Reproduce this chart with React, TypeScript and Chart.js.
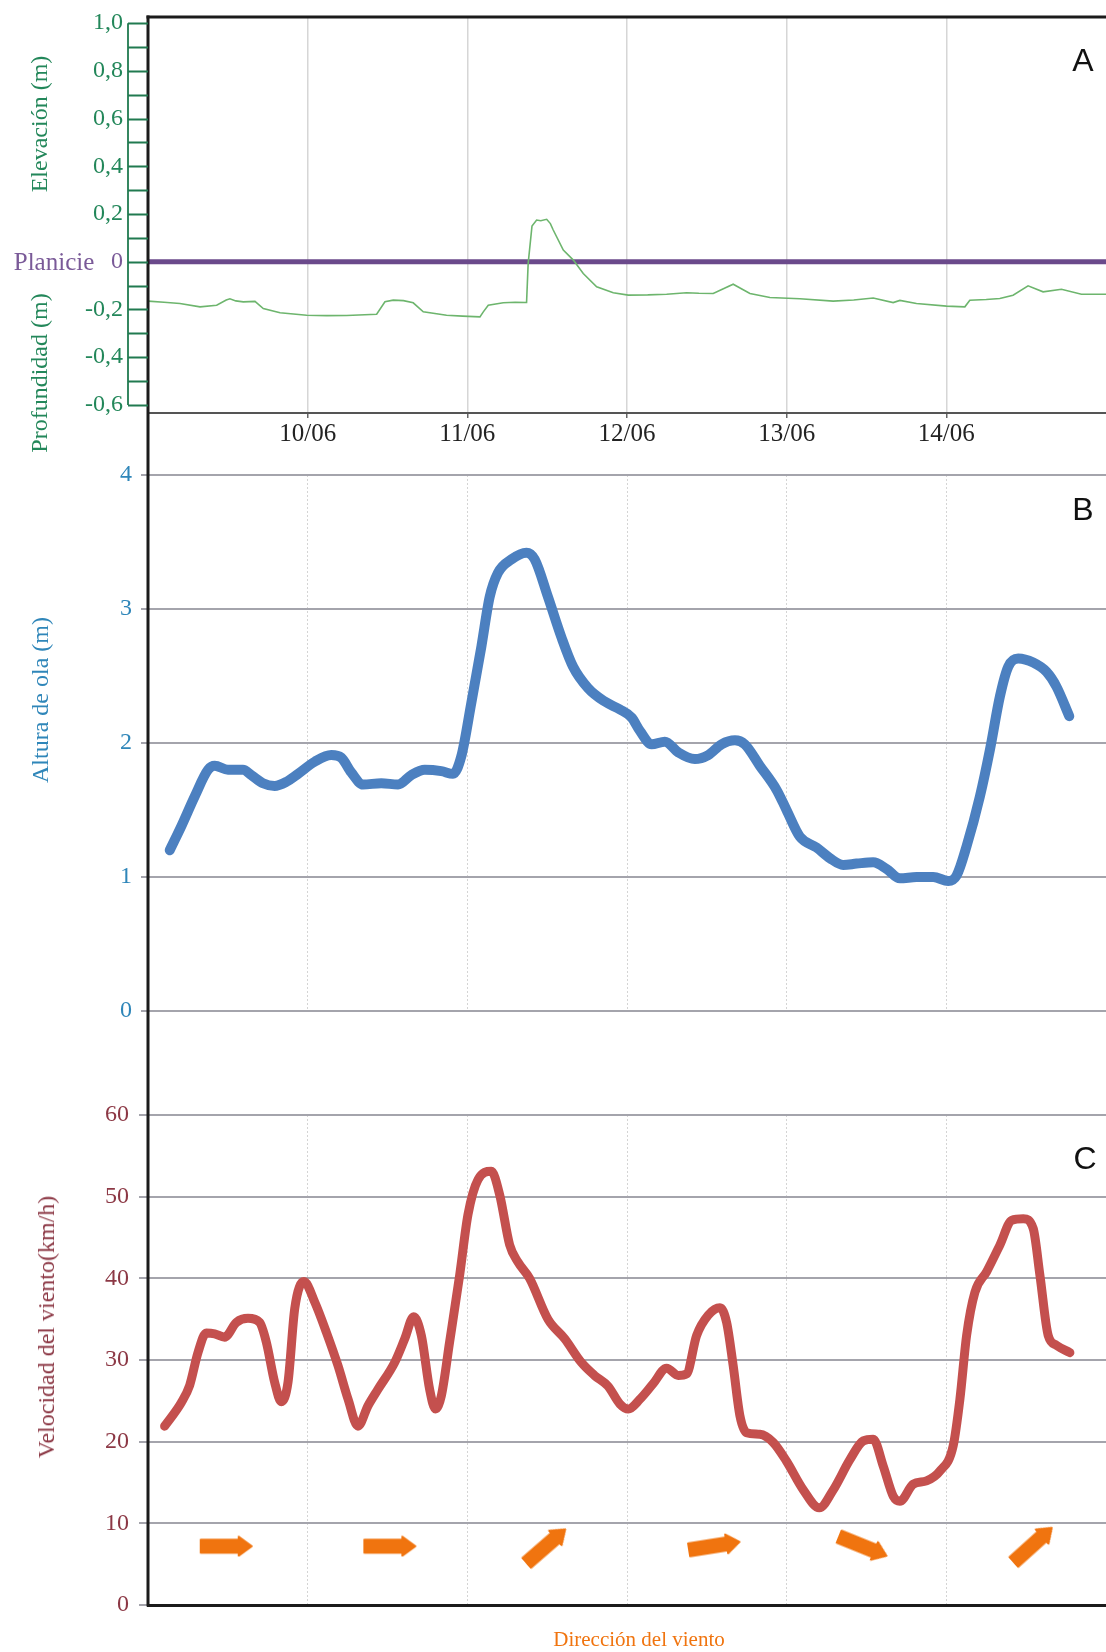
import React, { useEffect, useRef } from 'react';
import { Chart, registerables } from 'chart.js';

Chart.register(...registerables);

// ---------------- data ----------------
const dayTicks = [10, 11, 12, 13, 14];
const dayTickLabels = ['10/06', '11/06', '12/06', '13/06', '14/06'];

const elevationTicks = [-0.6, -0.4, -0.2, 0, 0.2, 0.4, 0.6, 0.8, 1.0];
const elevationTickLabels = ['-0,6', '-0,4', '-0,2', '0', '0,2', '0,4', '0,6', '0,8', '1,0'];
const waveTicks = [0, 1, 2, 3, 4];
const windTicks = [0, 10, 20, 30, 40, 50, 60];

const planicieLevel = 0;

// A: water level (m), days of June
const tideDay = [9.0, 9.1, 9.2, 9.326, 9.43, 9.49, 9.513, 9.55, 9.597, 9.67, 9.722, 9.827, 9.994, 10.12, 10.244, 10.432, 10.484, 10.536, 10.6, 10.661, 10.724, 10.87, 10.97, 11.079, 11.1, 11.131, 11.225, 11.3, 11.371, 11.381, 11.405, 11.434, 11.46, 11.497, 11.52, 11.538, 11.601, 11.664, 11.726, 11.81, 11.914, 12.008, 12.13, 12.248, 12.373, 12.45, 12.54, 12.665, 12.77, 12.895, 13.083, 13.291, 13.42, 13.542, 13.667, 13.709, 13.813, 14.001, 14.116, 14.147, 14.25, 14.335, 14.418, 14.512, 14.606, 14.721, 14.846, 15.0];
const tideLevel = [-0.165, -0.17, -0.175, -0.189, -0.182, -0.16, -0.155, -0.164, -0.168, -0.166, -0.196, -0.214, -0.224, -0.226, -0.225, -0.22, -0.168, -0.161, -0.163, -0.172, -0.21, -0.224, -0.228, -0.231, -0.21, -0.182, -0.172, -0.17, -0.171, -0.007, 0.15, 0.175, 0.172, 0.178, 0.16, 0.133, 0.049, 0.007, -0.049, -0.105, -0.13, -0.14, -0.139, -0.136, -0.13, -0.132, -0.133, -0.094, -0.133, -0.15, -0.155, -0.165, -0.16, -0.152, -0.171, -0.162, -0.175, -0.186, -0.189, -0.161, -0.158, -0.154, -0.14, -0.101, -0.126, -0.115, -0.136, -0.136];

// B: wave height (m)
const waveDay = [9.136, 9.209, 9.292, 9.376, 9.418, 9.501, 9.595, 9.647, 9.72, 9.793, 9.866, 9.94, 10.044, 10.148, 10.211, 10.273, 10.347, 10.461, 10.566, 10.649, 10.733, 10.837, 10.91, 10.962, 11.025, 11.088, 11.14, 11.192, 11.276, 11.37, 11.422, 11.505, 11.589, 11.662, 11.756, 11.86, 11.956, 12.029, 12.081, 12.154, 12.237, 12.321, 12.425, 12.509, 12.592, 12.676, 12.738, 12.832, 12.937, 12.999, 13.083, 13.187, 13.271, 13.354, 13.438, 13.542, 13.626, 13.709, 13.814, 13.918, 14.012, 14.064, 14.127, 14.21, 14.273, 14.336, 14.388, 14.45, 14.544, 14.628, 14.69, 14.77];
const waveHeight = [1.2, 1.38, 1.6, 1.8, 1.83, 1.8, 1.8, 1.76, 1.7, 1.68, 1.71, 1.77, 1.86, 1.91, 1.89, 1.78, 1.69, 1.70, 1.69, 1.76, 1.80, 1.79, 1.77, 1.9, 2.3, 2.72, 3.09, 3.27, 3.37, 3.42, 3.37, 3.09, 2.79, 2.57, 2.41, 2.31, 2.25, 2.19, 2.09, 1.99, 2.01, 1.93, 1.88, 1.91, 1.99, 2.02, 1.99, 1.83, 1.65, 1.50, 1.30, 1.22, 1.14, 1.09, 1.10, 1.11, 1.06, 0.99, 1.0, 1.0, 0.97, 1.01, 1.23, 1.6, 1.95, 2.35, 2.57, 2.63, 2.60, 2.53, 2.42, 2.2];

// C: wind speed (km/h)
const windDay = [9.104, 9.209, 9.261, 9.313, 9.365, 9.418, 9.48, 9.553, 9.626, 9.699, 9.741, 9.793, 9.835, 9.877, 9.919, 9.977, 10.044, 10.117, 10.19, 10.253, 10.315, 10.378, 10.44, 10.545, 10.608, 10.664, 10.712, 10.764, 10.8, 10.837, 10.889, 10.952, 11.004, 11.067, 11.15, 11.203, 11.265, 11.317, 11.39, 11.505, 11.61, 11.714, 11.797, 11.881, 11.956, 12.008, 12.081, 12.164, 12.248, 12.321, 12.373, 12.436, 12.509, 12.582, 12.624, 12.665, 12.707, 12.749, 12.832, 12.916, 12.999, 13.104, 13.204, 13.292, 13.396, 13.48, 13.542, 13.605, 13.668, 13.709, 13.793, 13.876, 13.96, 14.043, 14.085, 14.127, 14.179, 14.252, 14.336, 14.409, 14.482, 14.544, 14.586, 14.638, 14.69, 14.774];
const windSpeed = [21.9, 24.8, 26.9, 30.9, 33.3, 33.2, 32.8, 34.6, 35.1, 34.6, 32.2, 27.3, 24.9, 27.3, 36.3, 39.6, 37.1, 33.4, 29.3, 25.2, 21.9, 24.4, 26.4, 29.7, 32.6, 35.3, 33.0, 26.4, 24.0, 25.6, 32.2, 40.4, 47.8, 52.1, 53.1, 50.2, 44.1, 42.0, 40.0, 35.0, 32.6, 29.7, 28.1, 26.8, 24.6, 24.0, 25.2, 27.1, 29.0, 28.1, 28.3, 33.0, 35.5, 36.4, 34.6, 29.3, 23.2, 21.1, 20.9, 19.9, 17.6, 14.1, 11.9, 14.1, 17.8, 20.1, 20.3, 17.0, 13.3, 12.7, 14.8, 15.2, 16.4, 19.5, 25.2, 33.0, 38.3, 40.8, 44.1, 47.1, 47.3, 46.1, 40.4, 33.0, 31.8, 30.9];

// wind direction arrows (position in day / km/h axis, angle in degrees clockwise from east)
const windArrowDay = [9.493, 10.518, 11.495, 12.55, 13.48, 14.544];
const windArrowLevel = [7.2, 7.2, 7.25, 7.25, 7.17, 7.4];
const windArrowAngle = [0, 0, -41, -9, 22, -42];

// ---------------- style ----------------
const W = 1106;
const X_MIN = 9;
const X_MAX = 15;
const SERIF = "'Liberation Serif', 'DejaVu Serif', serif";
const SANS = "'Liberation Sans', Arial, sans-serif";
const GREEN_TEXT = '#23875a';
const GREEN_LINE = '#6db56d';
const PURPLE = '#6b4a8b';
const PURPLE_TEXT = '#7a5a98';
const BLUE_TEXT = '#2f86b9';
const BLUE_LINE = '#4c80c0';
const RED_TEXT = '#8c3845';
const RED_LINE = '#c4504e';
const ORANGE = '#f0740f';
const GRID = '#a4a4ac';

function fixedAxis(size: number, horizontal: boolean) {
  return (scale: any) => {
    if (horizontal) scale.height = size;
    else scale.width = size;
    scale.paddingTop = 0;
    scale.paddingBottom = 0;
    scale.paddingLeft = 0;
    scale.paddingRight = 0;
  };
}

function setTicks(values: number[]) {
  return (scale: any) => {
    scale.ticks = values.map((v) => ({ value: v }));
  };
}

function leftAxisPlugin(fromCanvasTop: boolean, toCanvasBottom: boolean) {
  return {
    id: 'leftAxisLine',
    afterDraw(chart: any) {
      const { ctx, chartArea } = chart;
      const y0 = fromCanvasTop ? 0 : chartArea.top - 1.5;
      const y1 = toCanvasBottom ? chart.height : chartArea.bottom + 1.5;
      ctx.save();
      ctx.strokeStyle = '#1b1b1b';
      ctx.lineWidth = 3;
      ctx.beginPath();
      ctx.moveTo(chartArea.left, y0);
      ctx.lineTo(chartArea.left, y1);
      ctx.stroke();
      ctx.restore();
    },
  };
}

const topBorderPlugin = {
  id: 'topBorder',
  afterDraw(chart: any) {
    const { ctx, chartArea } = chart;
    ctx.save();
    ctx.strokeStyle = '#1b1b1b';
    ctx.lineWidth = 3;
    ctx.beginPath();
    ctx.moveTo(chartArea.left - 1.5, chartArea.top);
    ctx.lineTo(chartArea.right, chartArea.top);
    ctx.stroke();
    ctx.restore();
  },
};

const ladderPlugin = {
  id: 'ladder',
  afterDraw(chart: any) {
    const { ctx, chartArea } = chart;
    const y = chart.scales.y;
    const xL = chartArea.left - 20;
    const top = y.getPixelForValue(elevationTicks[elevationTicks.length - 1]);
    const bot = y.getPixelForValue(elevationTicks[0]);
    ctx.save();
    ctx.strokeStyle = '#217a50';
    ctx.lineWidth = 1.8;
    ctx.beginPath();
    ctx.moveTo(xL, top);
    ctx.lineTo(xL, bot);
    for (let k = -6; k <= 10; k++) {
      const py = Math.round(y.getPixelForValue(k / 10)) + 0.5;
      ctx.moveTo(xL, py);
      ctx.lineTo(chartArea.left, py);
    }
    ctx.stroke();
    ctx.restore();
  },
};

function makeArrowCanvas() {
  const c = document.createElement('canvas');
  c.width = 56;
  c.height = 22;
  const ctx = c.getContext('2d')!;
  ctx.fillStyle = ORANGE;
  ctx.strokeStyle = ORANGE;
  ctx.lineJoin = 'round';
  ctx.lineWidth = 2;
  ctx.beginPath();
  ctx.rect(2, 4.5, 40, 13);
  ctx.fill();
  ctx.stroke();
  ctx.beginPath();
  ctx.moveTo(40, 1.5);
  ctx.lineTo(53, 11);
  ctx.lineTo(40, 20.5);
  ctx.closePath();
  ctx.fill();
  ctx.stroke();
  return c;
}

const baseOptions = {
  responsive: false,
  maintainAspectRatio: false,
  animation: false,
  events: [],
  plugins: { legend: { display: false }, tooltip: { enabled: false } },
};

function buildA() {
  return {
    type: 'line',
    data: {
      datasets: [
        {
          label: 'Profundidad',
          data: tideDay.map((x, i) => ({ x, y: tideLevel[i] })),
          borderColor: GREEN_LINE,
          borderWidth: 1.6,
          pointRadius: 0,
          tension: 0,
          order: 0,
        },
        {
          label: 'Planicie',
          data: [
            { x: X_MIN, y: planicieLevel },
            { x: X_MAX, y: planicieLevel },
          ],
          borderColor: PURPLE,
          borderWidth: 5,
          pointRadius: 0,
          order: 1,
        },
      ],
    },
    options: {
      ...baseOptions,
      layout: { autoPadding: false, padding: { top: 17, left: 0, right: 0, bottom: 0 } },
      scales: {
        x: {
          type: 'linear',
          min: X_MIN,
          max: X_MAX,
          afterBuildTicks: setTicks(dayTicks),
          afterFit: fixedAxis(47, true),
          grid: { color: '#d6d6d6', lineWidth: 1.5, drawTicks: true, tickLength: 5, tickColor: '#666' },
          border: { display: true, color: '#555', width: 2 },
          ticks: {
            autoSkip: false,
            maxRotation: 0,
            padding: 1,
            color: '#222',
            font: { family: SERIF, size: 25 },
            callback: (_v: any, i: number) => dayTickLabels[i],
          },
        },
        y: {
          type: 'linear',
          min: -0.634,
          max: 1.026,
          afterBuildTicks: setTicks(elevationTicks),
          afterFit: fixedAxis(148, false),
          grid: { display: false, drawTicks: false },
          border: { display: false },
          ticks: {
            autoSkip: false,
            padding: 25,
            font: { family: SERIF, size: 24 },
            color: (ctx: any) => (ctx.tick && ctx.tick.value === planicieLevel ? PURPLE_TEXT : GREEN_TEXT),
            callback: (_v: any, i: number) => elevationTickLabels[i],
          },
        },
      },
    },
    plugins: [leftAxisPlugin(false, true), topBorderPlugin, ladderPlugin],
  };
}

function buildB() {
  return {
    type: 'line',
    data: {
      datasets: [
        {
          label: 'Altura de ola',
          data: waveDay.map((x, i) => ({ x, y: waveHeight[i] })),
          borderColor: BLUE_LINE,
          borderWidth: 10,
          borderCapStyle: 'round',
          borderJoinStyle: 'round',
          pointRadius: 0,
          cubicInterpolationMode: 'monotone',
        },
      ],
    },
    options: {
      ...baseOptions,
      layout: { autoPadding: false, padding: { top: 15, left: 0, right: 0, bottom: 0 } },
      scales: {
        x: {
          type: 'linear',
          min: X_MIN,
          max: X_MAX,
          afterBuildTicks: setTicks(dayTicks),
          afterFit: fixedAxis(9, true),
          grid: { color: '#d4d4d4', lineWidth: 1, drawTicks: false },
          border: { display: false, dash: [2, 2] },
          ticks: { display: false },
        },
        y: {
          type: 'linear',
          min: 0,
          max: 4,
          afterBuildTicks: setTicks(waveTicks),
          afterFit: fixedAxis(148, false),
          grid: { color: GRID, lineWidth: 2, drawTicks: true, tickLength: 7, tickColor: GRID },
          border: { display: false },
          ticks: {
            autoSkip: false,
            padding: 9,
            color: BLUE_TEXT,
            font: { family: SERIF, size: 24 },
            callback: (v: any) => String(v),
          },
        },
      },
    },
    plugins: [leftAxisPlugin(true, true)],
  };
}

function buildC(arrow: HTMLCanvasElement) {
  return {
    type: 'line',
    data: {
      datasets: [
        {
          label: 'Velocidad del viento',
          data: windDay.map((x, i) => ({ x, y: windSpeed[i] })),
          borderColor: RED_LINE,
          borderWidth: 9,
          borderCapStyle: 'round',
          borderJoinStyle: 'round',
          pointRadius: 0,
          cubicInterpolationMode: 'monotone',
        },
        {
          label: 'Dirección del viento',
          data: windArrowDay.map((x, i) => ({ x, y: windArrowLevel[i] })),
          showLine: false,
          pointStyle: arrow,
          pointRadius: 10,
          pointRotation: windArrowAngle,
        },
      ],
    },
    options: {
      ...baseOptions,
      layout: { autoPadding: false, padding: { top: 95, left: 0, right: 0, bottom: 0 } },
      scales: {
        x: {
          type: 'linear',
          min: X_MIN,
          max: X_MAX,
          afterBuildTicks: setTicks(dayTicks),
          afterFit: fixedAxis(47, true),
          grid: { color: '#d4d4d4', lineWidth: 1, drawTicks: false },
          border: { display: true, color: '#1b1b1b', width: 3, dash: [2, 2], z: 1 },
          ticks: { display: false },
        },
        y: {
          type: 'linear',
          min: 0,
          max: 60,
          afterBuildTicks: setTicks(windTicks),
          afterFit: fixedAxis(148, false),
          grid: { color: GRID, lineWidth: 2, drawTicks: true, tickLength: 9, tickColor: GRID },
          border: { display: false },
          ticks: {
            autoSkip: false,
            padding: 10,
            color: RED_TEXT,
            font: { family: SERIF, size: 24 },
            callback: (v: any) => String(v),
          },
        },
      },
    },
    plugins: [leftAxisPlugin(true, false)],
  };
}

function ChartCanvas({ top, height, build }: { top: number; height: number; build: () => any }) {
  const ref = useRef<HTMLCanvasElement>(null);
  useEffect(() => {
    const chart = new Chart(ref.current as HTMLCanvasElement, build());
    return () => chart.destroy();
  }, []);
  return (
    <canvas
      ref={ref}
      width={W}
      height={height}
      style={{ position: 'absolute', left: 0, top, width: W, height, display: 'block' }}
    />
  );
}

function VText({ text, cx, cy, color, size }: { text: string; cx: number; cy: number; color: string; size: number }) {
  return (
    <div
      style={{
        position: 'absolute',
        left: cx,
        top: cy,
        transform: 'translate(-50%, -50%) rotate(-90deg)',
        whiteSpace: 'nowrap',
        fontFamily: SERIF,
        fontSize: size,
        lineHeight: 1,
        color,
      }}
    >
      {text}
    </div>
  );
}

function HText({ text, cx, cy, color, size, family }: { text: string; cx: number; cy: number; color: string; size: number; family: string }) {
  return (
    <div
      style={{
        position: 'absolute',
        left: cx,
        top: cy,
        transform: 'translate(-50%, -50%)',
        whiteSpace: 'nowrap',
        fontFamily: family,
        fontSize: size,
        lineHeight: 1,
        color,
      }}
    >
      {text}
    </div>
  );
}

export default function App() {
  return (
    <div style={{ position: 'absolute', left: 0, top: 0, width: W, height: 1652, background: '#fff', overflow: 'hidden' }}>
      <ChartCanvas top={0} height={460} build={buildA} />
      <ChartCanvas top={460} height={560} build={buildB} />
      <ChartCanvas top={1020} height={632} build={() => buildC(makeArrowCanvas())} />

      <VText text="Elevación (m)" cx={39} cy={124} color={GREEN_TEXT} size={24} />
      <VText text="Profundidad (m)" cx={39} cy={373} color={GREEN_TEXT} size={24} />
      <HText text="Planicie" cx={54} cy={261} color={PURPLE_TEXT} size={25} family={SERIF} />
      <VText text="Altura de ola (m)" cx={40} cy={700} color={BLUE_TEXT} size={24} />
      <VText text="Velocidad del viento(km/h)" cx={46} cy={1327} color={RED_TEXT} size={24} />
      <HText text="Dirección del viento" cx={639} cy={1639} color={ORANGE} size={21} family={SERIF} />

      <HText text="A" cx={1083} cy={60} color="#111" size={32} family={SANS} />
      <HText text="B" cx={1083} cy={509} color="#111" size={32} family={SANS} />
      <HText text="C" cx={1085} cy={1158} color="#111" size={32} family={SANS} />
    </div>
  );
}
